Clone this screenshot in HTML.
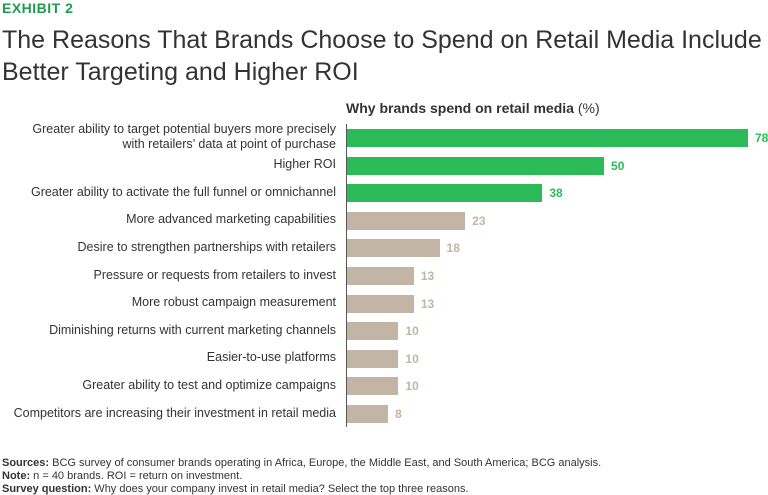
<!DOCTYPE html>
<html><head><meta charset="utf-8">
<style>
body{margin:0;width:768px;height:495px;background:#fff;font-family:"Liberation Sans",sans-serif;overflow:hidden;position:relative;color:#333}
.abs{position:absolute;white-space:nowrap}
.lbl{font-size:12.5px;color:#333;text-align:right;right:432px;line-height:15px}
.val{font-size:12px;font-weight:bold}
.foot{font-size:11px;left:2px;color:#333}
</style></head><body>
<div class="abs" style="left:2px;top:0px;font-size:14px;font-weight:bold;color:#1e9b4c;letter-spacing:0.5px">EXHIBIT 2</div>
<div class="abs" style="left:2px;top:24px;font-size:25px;line-height:32px;color:#333;font-weight:300">The Reasons That Brands Choose to Spend on Retail Media Include<br>Better Targeting and Higher ROI</div>
<div class="abs" style="left:346px;top:100px;font-size:14px;font-weight:bold;color:#333">Why brands spend on retail media <span style="font-weight:normal">(%)</span></div>
<div id="chart"></div>
<div class="abs foot" style="top:457px"><b>Sources:</b> BCG survey of consumer brands operating in Africa, Europe, the Middle East, and South America; BCG analysis.</div>
<div class="abs foot" style="top:470px"><b>Note:</b> n = 40 brands. ROI = return on investment.</div>
<div class="abs foot" style="top:483px"><b>Survey question:</b> Why does your company invest in retail media? Select the top three reasons.</div>
<script>
const categories=["Greater ability to target potential buyers more precisely<br>with retailers’ data at point of purchase","Higher ROI","Greater ability to activate the full funnel or omnichannel","More advanced marketing capabilities","Desire to strengthen partnerships with retailers","Pressure or requests from retailers to invest","More robust campaign measurement","Diminishing returns with current marketing channels","Easier-to-use platforms","Greater ability to test and optimize campaigns","Competitors are increasing their investment in retail media"];
const values=[78,50,38,23,18,13,13,10,10,10,8];
const highlighted=[true,true,true,false,false,false,false,false,false,false,false];
const x0=346,scale=(747-346)/78;
function xs(v){return v*scale;}
function yc(i){return 138+i*27.6;}
const c=document.getElementById('chart');
const axis=document.createElement('div');
axis.className='abs';


axis.style.cssText='left:346px;top:124px;width:1px;height:303px;background:#555';
c.appendChild(axis);
values.forEach((v,i)=>{
 const col=highlighted[i]?'#2dbb5a':'#c3b5a5';
 const vc=highlighted[i]?'#2dbb5a':'#c3b5a5';
 const b=document.createElement('div');
 b.className='abs';
 
 
 b.style.cssText=`left:${x0+1}px;top:${yc(i)-9}px;width:${xs(v)}px;height:18px;background:${col}`;
 c.appendChild(b);
 const t=document.createElement('div');
 t.className='abs val';
 
 
 t.style.cssText=`left:${x0+xs(v)+8}px;top:${yc(i)-7}px;color:${vc}`;
 t.textContent=v;
 c.appendChild(t);
 const l=document.createElement('div');
 l.className='abs lbl';
 
 
 const lines=categories[i].split('<br>').length;
 l.style.top=(yc(i)-lines*7.5-1)+'px';
 l.innerHTML=categories[i];
 c.appendChild(l);
});
</script>
</body></html>
